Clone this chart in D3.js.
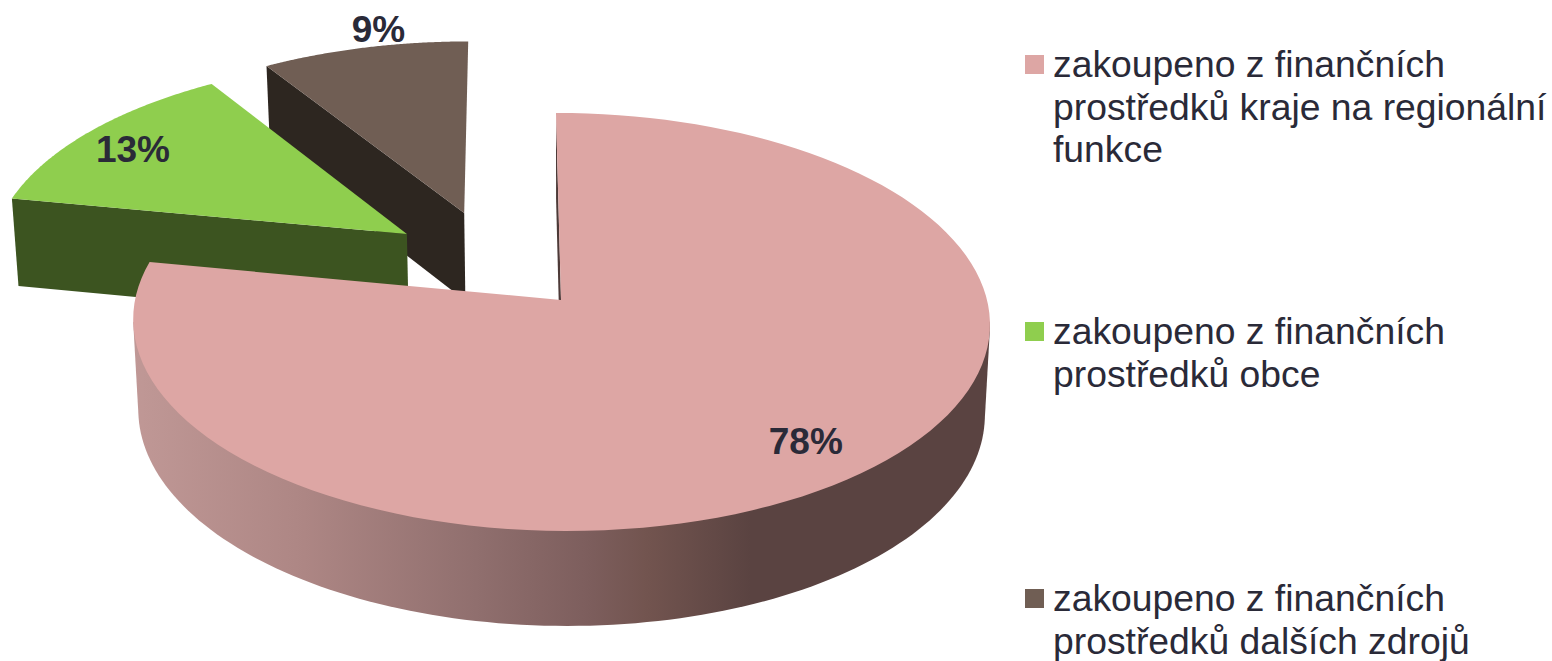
<!DOCTYPE html>
<html>
<head>
<meta charset="utf-8">
<script src="https://cdn.jsdelivr.net/npm/d3@7"></script>
<style>
  html, body { margin: 0; padding: 0; background: #fff; overflow: hidden; }
  text { font-family: "Liberation Sans", Arial, sans-serif; fill: #2a2a38; }
</style>
</head>
<body>
<svg id="chart" width="1552" height="661"></svg>
<script>
var categories = [
  ['zakoupeno z finančních', 'prostředků kraje na regionální', 'funkce'],
  ['zakoupeno z finančních', 'prostředků obce'],
  ['zakoupeno z finančních', 'prostředků dalších zdrojů']
]
var shares = [78, 13, 9]
var shareLabels = ['78%', '13%', '9%']

var topColors = ['#dda6a4', '#8fce4e', '#705e54']
var sideColors = ['#4d3a38', '#3c5420', '#2d2620']
// how far each slice is pulled out of the pie, in units of the radius
var explode = [[0, 0], [-0.37, -0.33], [-0.232, -0.44]]
// label spot relative to the slice apex, same units
var labelSpot = [[0.528, 0.636], [-0.708, -0.462], [-0.245, -1.08]]
var legendTop = [55, 322, 589]

var persp = 0.105, skew = 0.013
var midX = 561

var svg = d3.select('#chart')
var xScale = d3.scaleLinear().domain([-1, 1]).range([midX - 426, midX + 426])
var yScale = d3.scaleLinear().domain([-1, 1]).range([300 - 206.7, 300 + 206.7])
var slices = d3.pie().sort(null).value((d) => d)(shares)
var path = d3.line()

// disc coordinates -> screen, with the slight perspective of the 3D pie
var project = (u, v) => {
  var w = 1 - persp * v
  return [xScale ((u + skew * v) / w), yScale (v / w)]
}
// same point on the underside of the pie
var lift = (u, v) => {
  var p = project (u, v)
  return [midX + (p[0] - midX) * 0.988, p[1] + 90 + 5 * v]
}
var rimPoint = (i, angle, fn) => fn (explode[i][0] + Math.sin (angle), explode[i][1] - Math.cos (angle))
var apex = (i, fn) => fn (explode[i][0], explode[i][1])
var rim = (i, a0, a1, fn) => d3.range (0, 121).map ((n) => rimPoint (i, a0 + (a1 - a0) * n / 120, fn))
var topFace = (i) => [apex (i, project)].concat (rim (i, slices[i].startAngle, slices[i].endAngle, project))
var cutFace = (i, angle) => [apex (i, project), rimPoint (i, angle, project),
                             rimPoint (i, angle, lift), apex (i, lift)]

var grad = svg.append ('defs').append ('linearGradient')
  .attr ('id', 'wall')
  .attr ('gradientUnits', 'userSpaceOnUse')
  .attr ('x1', 133).attr ('x2', 991).attr ('y1', 0).attr ('y2', 0)
var wallStops = [[0, '#c09896'], [0.2, '#ad8684'], [0.4, '#906f6e'], [0.53, '#7d5e5d'],
                 [0.6, '#72544f'], [0.72, '#5a4341'], [1, '#5a4341']]
wallStops.forEach ((s) => grad.append ('stop').attr ('offset', s[0]).attr ('stop-color', s[1]))

var fillPath = (pts, fill) => svg.append ('path')
  .attr ('d', path (pts) + 'Z')
  .attr ('fill', fill)

// back to front: brown, green, then the big slice
;[2, 1].forEach ((i) => {
  fillPath (cutFace (i, slices[i].startAngle), sideColors[i])
  fillPath (topFace (i), topColors[i])
})
// outer wall only between the two widest points of the top face
var wallFrom = 96 * Math.PI / 180, wallTo = 264 * Math.PI / 180
var wallPoints = rim (0, wallFrom, wallTo, project).concat (rim (0, wallFrom, wallTo, lift))
fillPath (d3.polygonHull (wallPoints), 'url(#wall)')
fillPath (cutFace (0, slices[0].startAngle), sideColors[0])
fillPath (topFace (0), topColors[0])

slices.forEach ((s, i) => {
  var p = project (explode[i][0] + labelSpot[i][0], explode[i][1] + labelSpot[i][1])
  svg.append ('text')
    .attr ('x', p[0])
    .attr ('y', p[1] + 13)
    .attr ('text-anchor', 'middle')
    .attr ('font-size', 37)
    .attr ('font-weight', 'bold')
    .text (shareLabels[i])
})

categories.forEach ((lines, i) => {
  svg.append ('rect')
    .attr ('x', 1025).attr ('y', legendTop[i])
    .attr ('width', 19).attr ('height', 19)
    .attr ('fill', topColors[i])
  lines.forEach ((line, n) => {
    svg.append ('text')
      .attr ('x', 1053)
      .attr ('y', legendTop[i] + 22 + n * 42.5)
      .attr ('font-size', 37.3)
      .text (line)
  })
})
</script>
</body>
</html>
